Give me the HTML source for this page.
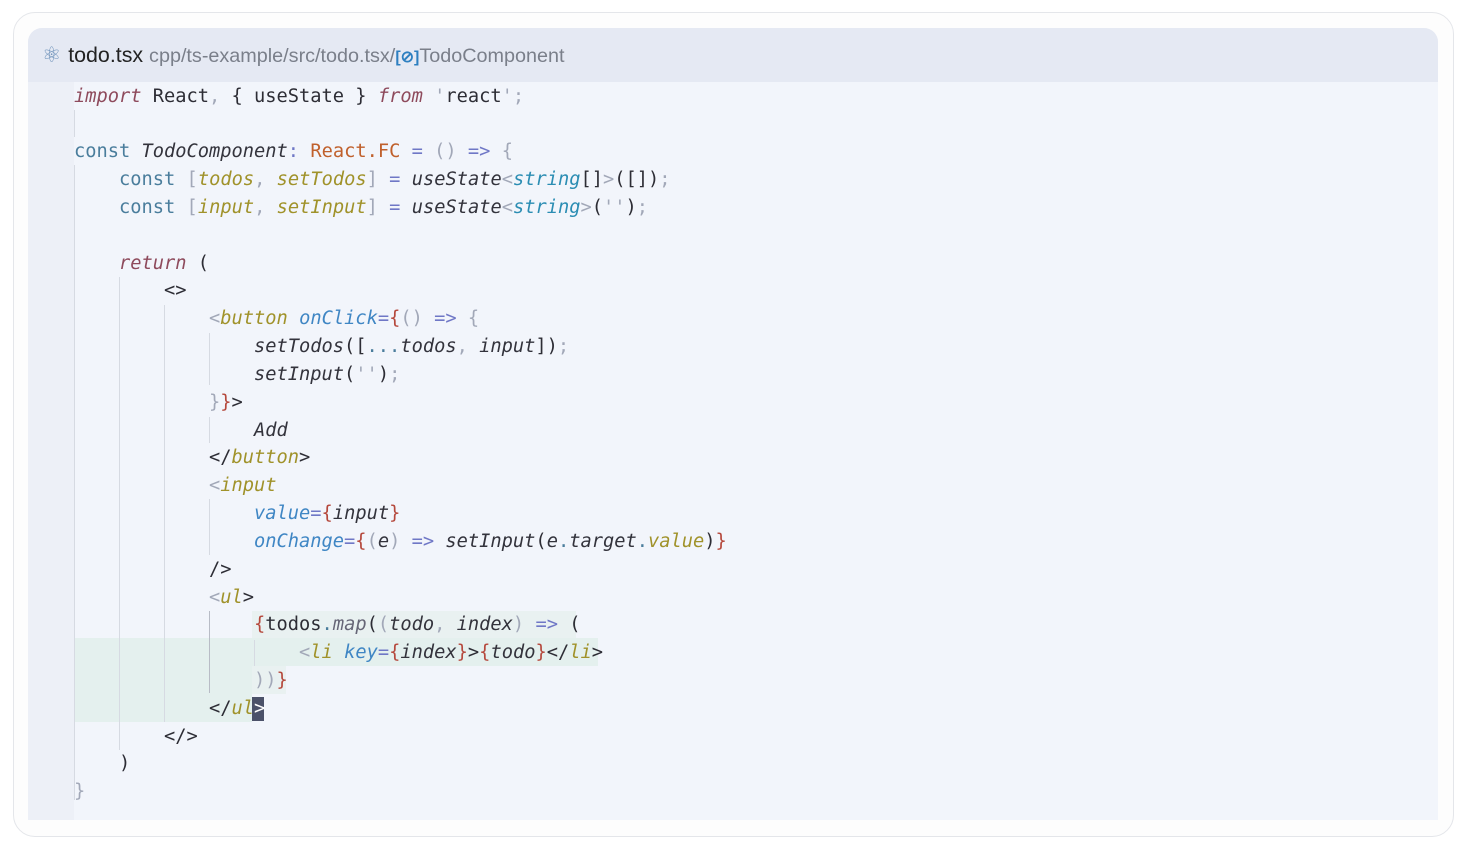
<!DOCTYPE html>
<html><head><meta charset="utf-8"><style>
html,body{margin:0;padding:0;width:1473px;height:855px;background:#fff;overflow:hidden}
.card{position:absolute;left:13px;top:12px;width:1439px;height:823px;border:1px solid #e4e6ea;border-radius:22px;background:#fdfdfd}
.panel{position:absolute;left:28px;top:28px;width:1410px;height:792px;background:#f2f5fb;border-radius:14px 14px 0 0;overflow:hidden}
.hdr{position:absolute;left:0;top:0;width:1410px;height:54px;background:#e5e9f3}
.gut{position:absolute;left:0;top:54px;width:46px;height:738px;background:#edf0f7}
.ht{position:absolute;left:14px;top:15px;font:21.4px "Liberation Sans",sans-serif;color:#222;white-space:nowrap}
.ht .g{color:#7a7f8a;font-size:19.8px}
.ht .b{color:#2d7fc0;font-size:16px;font-weight:bold}
.l{position:absolute;left:74px;height:28px;line-height:28px;font:18.7px "DejaVu Sans Mono","Liberation Mono",monospace;white-space:pre;color:#2d2d35}
.k{color:#4a7d9c}.i{color:#8e4a5c;font-style:italic}.t{color:#a0922a;font-style:italic}.f{font-style:italic;color:#33333c}
.s{color:#2b8db3;font-style:italic}.p{color:#a2a8b8}.o{color:#6f77c6}.r{color:#b5483c}.a{color:#3f86c4;font-style:italic}.c{color:#c0602c}
.v{position:absolute;width:1px;background:#d6dae2}
.hl{position:absolute;background:#e4f0ee}
</style></head><body>
<div class="card"></div>
<div class="panel">
<div class="hdr"></div><div class="gut"></div>
<div class="ht"><span style="color:#6a8fb8;margin-right:7px">⚛</span>todo.tsx <span class="g">cpp/ts-example/src/todo.tsx/</span><span class="b">[⊘]</span><span class="g">TodoComponent</span></div>
</div>
<div class="hl" style="left:252px;top:611px;width:324px;height:27px;background:#e9f1f1"></div>
<div class="hl" style="left:74px;top:638px;width:524px;height:28px"></div>
<div class="hl" style="left:74px;top:666px;width:178px;height:56px"></div>
<div class="hl" style="left:252px;top:666px;width:34px;height:28px;background:#e9f1f1"></div>
<div style="position:absolute;left:252px;top:697px;width:12px;height:24px;background:#4b5169"></div>
<div class="v" style="left:74px;top:110px;height:27px"></div>
<div class="v" style="left:74px;top:165px;height:635px"></div>
<div class="v" style="left:119px;top:277px;height:473px"></div>
<div class="v" style="left:164px;top:305px;height:417px"></div>
<div class="v" style="left:209px;top:333px;height:52px"></div>
<div class="v" style="left:209px;top:417px;height:26px"></div>
<div class="v" style="left:209px;top:499px;height:56px"></div>
<div class="v" style="left:209px;top:611px;height:82px;background:#b8bcc6"></div>
<div class="v" style="left:254px;top:640px;height:26px"></div>

<div class="l" style="top:86px"><span class="i">import</span> React<span class="p">,</span> { useState } <span class="i">from</span> <span class="p">'</span>react<span class="p">';</span></div>
<div class="l" style="top:141px"><span class="k">const</span> <span class="f">TodoComponent</span><span class="o">:</span> <span class="c">React.FC</span> <span class="o">=</span> <span class="p">()</span> <span class="o">=&gt;</span> <span class="p">{</span></div>
<div class="l" style="top:169px">    <span class="k">const</span> <span class="p">[</span><span class="t">todos</span><span class="p">,</span> <span class="t">setTodos</span><span class="p">]</span> <span class="o">=</span> <span class="f">useState</span><span class="p">&lt;</span><span class="s">string</span>[]<span class="p">&gt;</span>([])<span class="p">;</span></div>
<div class="l" style="top:197px">    <span class="k">const</span> <span class="p">[</span><span class="t">input</span><span class="p">,</span> <span class="t">setInput</span><span class="p">]</span> <span class="o">=</span> <span class="f">useState</span><span class="p">&lt;</span><span class="s">string</span><span class="p">&gt;</span>(<span class="p">''</span>)<span class="p">;</span></div>
<div class="l" style="top:253px">    <span class="i">return</span> (</div>
<div class="l" style="top:280px">        &lt;&gt;</div>
<div class="l" style="top:308px">            <span class="p">&lt;</span><span class="t">button</span> <span class="a">onClick</span><span class="o">=</span><span class="r">{</span><span class="p">()</span> <span class="o">=&gt;</span> <span class="p">{</span></div>
<div class="l" style="top:336px">                <span class="f">setTodos</span>([<span class="k">...</span><span class="f">todos</span><span class="p">,</span> <span class="f">input</span>])<span class="p">;</span></div>
<div class="l" style="top:364px">                <span class="f">setInput</span>(<span class="p">''</span>)<span class="p">;</span></div>
<div class="l" style="top:392px">            <span class="p">}</span><span class="r">}</span>&gt;</div>
<div class="l" style="top:420px">                <span class="f">Add</span></div>
<div class="l" style="top:447px">            &lt;/<span class="t">button</span>&gt;</div>
<div class="l" style="top:475px">            <span class="p">&lt;</span><span class="t">input</span></div>
<div class="l" style="top:503px">                <span class="a">value</span><span class="o">=</span><span class="r">{</span><span class="f">input</span><span class="r">}</span></div>
<div class="l" style="top:531px">                <span class="a">onChange</span><span class="o">=</span><span class="r">{</span><span class="p">(</span><span class="f">e</span><span class="p">)</span> <span class="o">=&gt;</span> <span class="f">setInput</span>(<span class="f">e</span><span class="k">.</span><span class="f">target</span><span class="k">.</span><span class="t">value</span>)<span class="r">}</span></div>
<div class="l" style="top:559px">            /&gt;</div>
<div class="l" style="top:587px">            <span class="p">&lt;</span><span class="t">ul</span>&gt;</div>
<div class="l" style="top:614px">                <span class="r">{</span>todos<span class="k">.</span><span class="f" style="color:#667">map</span>(<span class="p">(</span><span class="f">todo</span><span class="p">,</span> <span class="f">index</span><span class="p">)</span> <span class="o">=&gt;</span> (</div>
<div class="l" style="top:642px">                    <span class="p">&lt;</span><span class="t">li</span> <span class="a">key</span><span class="o">=</span><span class="r">{</span><span class="f">index</span><span class="r">}</span>&gt;<span class="r">{</span><span class="f">todo</span><span class="r">}</span>&lt;/<span class="t">li</span>&gt;</div>
<div class="l" style="top:670px">                <span class="p">))</span><span class="r">}</span></div>
<div class="l" style="top:698px">            &lt;/<span class="t">ul</span><span style="color:#fff">&gt;</span></div>
<div class="l" style="top:726px">        &lt;/&gt;</div>
<div class="l" style="top:753px">    )</div>
<div class="l" style="top:781px"><span class="p">}</span></div>
</body></html>
